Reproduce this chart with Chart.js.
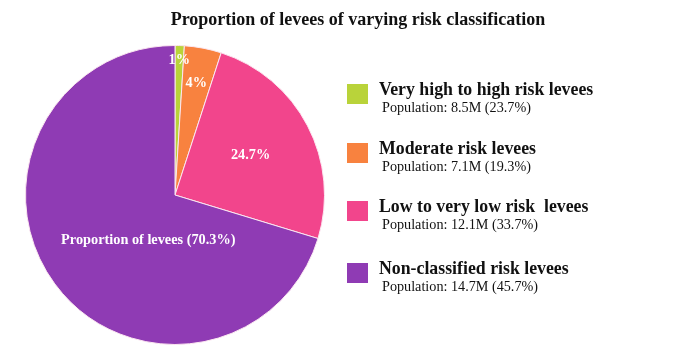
<!DOCTYPE html>
<html>
<head>
<meta charset="utf-8">
<script src="https://cdn.jsdelivr.net/npm/chart.js@4"></script>
<style>
  body { margin: 0; background: #fff; font-family: "Liberation Serif", serif; }
  #wrap { position: relative; width: 700px; height: 350px; }
  #pie { position: absolute; left: 0; top: 0; }
  #title { position: absolute; left: 0; top: 9px; width: 716px; text-align: center;
    font-weight: bold; font-size: 18px; color: #111; }
  .item { position: absolute; left: 347px; }
  .swatch { position: absolute; left: 0; top: 0; width: 21px; height: 20px; }
  .name { position: absolute; left: 32px; top: -5px; white-space: pre; font-weight: bold;
    font-size: 17.8px; color: #111; }
  .pop { position: absolute; left: 35px; top: 15px; white-space: nowrap; font-size: 14.2px; color: #111; }
</style>
</head>
<body>
<div id="wrap">
  <canvas id="pie" width="700" height="350"></canvas>
  <div id="title">Proportion of levees of varying risk classification</div>
  <div id="legend"></div>
</div>
<script>
// Share of levees per risk class
const categories = [
  "Very high to high risk levees",
  "Moderate risk levees",
  "Low to very low risk  levees",
  "Non-classified risk levees",
];
const levelShare = [1, 4, 24.7, 70.3];
const sliceLabels = ["1%", "4%", "24.7%", "Proportion of levees (70.3%)"];
const population = ["8.5M", "7.1M", "12.1M", "14.7M"];
const populationShare = [23.7, 19.3, 33.7, 45.7];
const colors = ["#b9d33a", "#f8823f", "#f2458c", "#8f3bb4"];

// where each label sits: fraction of the slice angle and of the radius
const labelAngle = [0.5, 0.5, 0.5, 0.41];
const labelRadius = [0.9, 0.76, 0.57, 0.35];

const sliceText = {
  id: "sliceText",
  afterDatasetsDraw(chart) {
    const ctx = chart.ctx;
    const arcs = chart.getDatasetMeta(0).data;
    ctx.save();
    ctx.fillStyle = "#fff";
    ctx.font = "bold 14.3px 'Liberation Serif'";
    ctx.textAlign = "center";
    ctx.textBaseline = "middle";
    arcs.forEach((arc, i) => {
      const a = arc.startAngle + (arc.endAngle - arc.startAngle) * labelAngle[i];
      const r = arc.outerRadius * labelRadius[i];
      ctx.fillText(sliceLabels[i], arc.x + Math.cos(a) * r, arc.y + Math.sin(a) * r);
    });
    ctx.restore();
  },
};

new Chart(document.getElementById("pie"), {
  type: "pie",
  data: {
    labels: categories,
    datasets: [
      {
        data: levelShare,
        backgroundColor: colors,
        borderColor: "#fbe6f0",
        borderWidth: 1,
      },
    ],
  },
  options: {
    responsive: false,
    animation: false,
    layout: { padding: { left: 25, top: 45, right: 375, bottom: 5 } },
    plugins: {
      legend: { display: false },
      tooltip: { enabled: false },
    },
  },
  plugins: [sliceText],
});

// Legend with population figures
const legendTops = [84, 143, 201, 263];
const legend = document.getElementById("legend");
categories.forEach((name, i) => {
  const item = document.createElement("div");
  item.className = "item";
  item.style.top = legendTops[i] + "px";
  item.innerHTML =
    `<div class="swatch" style="background:${colors[i]}"></div>` +
    `<div class="name">${name}</div>` +
    `<div class="pop">Population: ${population[i]} (${populationShare[i]}%)</div>`;
  legend.appendChild(item);
});
</script>
</body>
</html>
